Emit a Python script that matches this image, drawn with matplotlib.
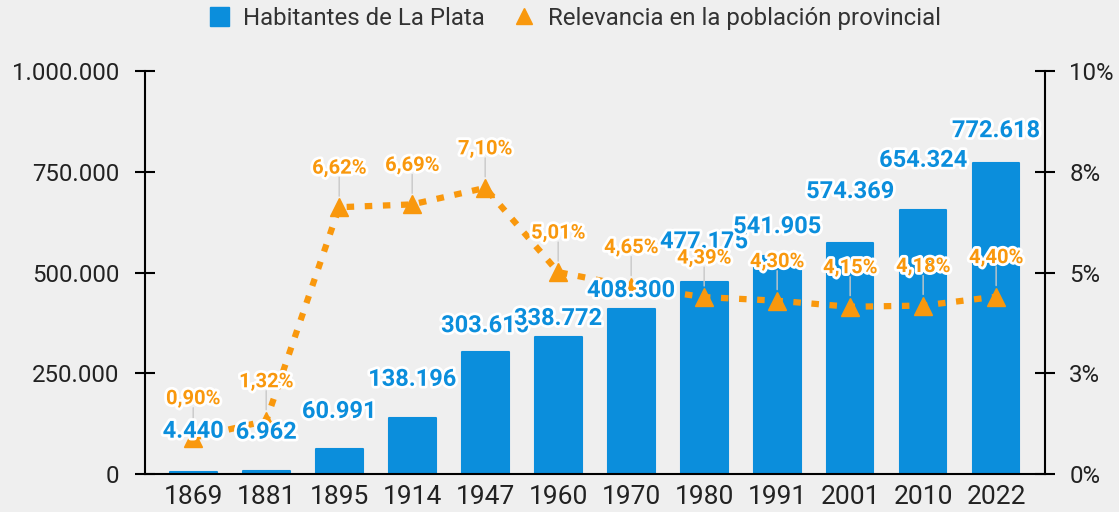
import matplotlib.pyplot as plt
import matplotlib.patheffects as pe
from matplotlib.lines import Line2D
from matplotlib.patches import Patch

plt.rcParams['font.family'] = ['Roboto', 'DejaVu Sans']

years = ['1869', '1881', '1895', '1914', '1947', '1960', '1970', '1980', '1991', '2001', '2010', '2022']
habitantes = [4440, 6962, 60991, 138196, 303610, 338772, 408300, 477175, 541905, 574369, 654324, 772618]
relevancia = [0.90, 1.32, 6.62, 6.69, 7.10, 5.01, 4.65, 4.39, 4.30, 4.15, 4.18, 4.40]

# label offsets above bar top (px), pushed around to avoid overlaps like the original
bar_lbl_off = [41, 39, 38, 39, 26, 19, 19, 40, 29, 51, 50, 32]

BLUE = '#0b8edc'
ORANGE = '#f9980d'
BG = '#efefef'

def fmt_miles(v):
    return f'{v:,}'.replace(',', '.')

fig = plt.figure(figsize=(11.19, 5.12), dpi=100, facecolor=BG)
ax = fig.add_axes([0.1296, 0.0742, 0.8043, 0.7871])
ax.set_facecolor(BG)
ax2 = ax.twinx()

x = list(range(len(years)))
ax.bar(x, habitantes, width=0.64, color=BLUE, edgecolor=BLUE, linewidth=1.5,
       joinstyle='round', zorder=2)
ax.set_ylim(0, 1000000)
ax.set_xlim(-0.66, 11.67)
ax.set_yticks([0, 250000, 500000, 750000, 1000000])
ax.set_yticklabels(['0', '250.000', '500.000', '750.000', '1.000.000'])
ax.set_xticks(x)
ax.set_xticklabels(years)

ax2.set_ylim(0, 10)
ax2.set_yticks([0, 2.5, 5, 7.5, 10])
ax2.set_yticklabels(['0%', '3%', '5%', '8%', '10%'])

for a in (ax, ax2):
    a.spines['top'].set_visible(False)
    a.spines['left'].set_linewidth(1.5)
    a.spines['right'].set_linewidth(1.5)
    a.spines['bottom'].set_linewidth(1.5)
ax.spines['right'].set_visible(False)
ax2.spines['left'].set_visible(False)
ax2.spines['bottom'].set_visible(False)

ax.tick_params(axis='y', direction='inout', length=15, width=1.5, labelsize=17.3,
               labelcolor='#222222', pad=11)
ax2.tick_params(axis='y', direction='inout', length=15, width=1.5, labelsize=17.3,
                labelcolor='#222222', pad=10)
ax.tick_params(axis='x', length=0, labelsize=19, labelcolor='#222222', pad=8)

ax2.plot(x, relevancia, color=ORANGE, linewidth=4.5, linestyle=(0, (1.2, 1.7)),
         dash_capstyle='butt', zorder=3)
ax2.plot(x, relevancia, linestyle='none', marker='^', markersize=13,
         color=ORANGE, zorder=4)

ax.set_zorder(ax2.get_zorder() - 1)
ax.patch.set_visible(True)
ax2.patch.set_visible(False)

stroke = [pe.withStroke(linewidth=4, foreground='white')]

for i, v in enumerate(relevancia):
    ax2.annotate('', xy=(i, v), xytext=(0, 30), textcoords='offset pixels',
                 arrowprops=dict(arrowstyle='-', color='#c8c8c8', lw=1,
                                 shrinkA=0, shrinkB=8), zorder=3)
    ax2.annotate(f'{v:.2f}%'.replace('.', ','), xy=(i, v), xytext=(0, 39),
                 textcoords='offset pixels', ha='center', va='center',
                 fontsize=14.5, fontweight='bold', color=ORANGE,
                 path_effects=stroke, zorder=6)

for i, v in enumerate(habitantes):
    ax2.annotate(fmt_miles(v), xy=(i, v / 100000), xytext=(0, bar_lbl_off[i]),
                 textcoords='offset pixels', ha='center', va='center',
                 fontsize=17, fontweight='bold', color=BLUE,
                 path_effects=stroke, zorder=5)

handles = [Patch(facecolor=BLUE, edgecolor=BLUE, label='Habitantes de La Plata'),
           Line2D([], [], linestyle='none', marker='^', markersize=12, color=ORANGE,
                  label='Relevancia en la población provincial')]
fig.legend(handles=handles, loc='center', bbox_to_anchor=(0.514, 0.964), ncol=2,
           frameon=False, fontsize=17.3, handlelength=0.8, handleheight=0.8,
           columnspacing=1.2, handletextpad=0.6, labelcolor='#333333')

fig.savefig('out.png', dpi=100, facecolor=BG)
